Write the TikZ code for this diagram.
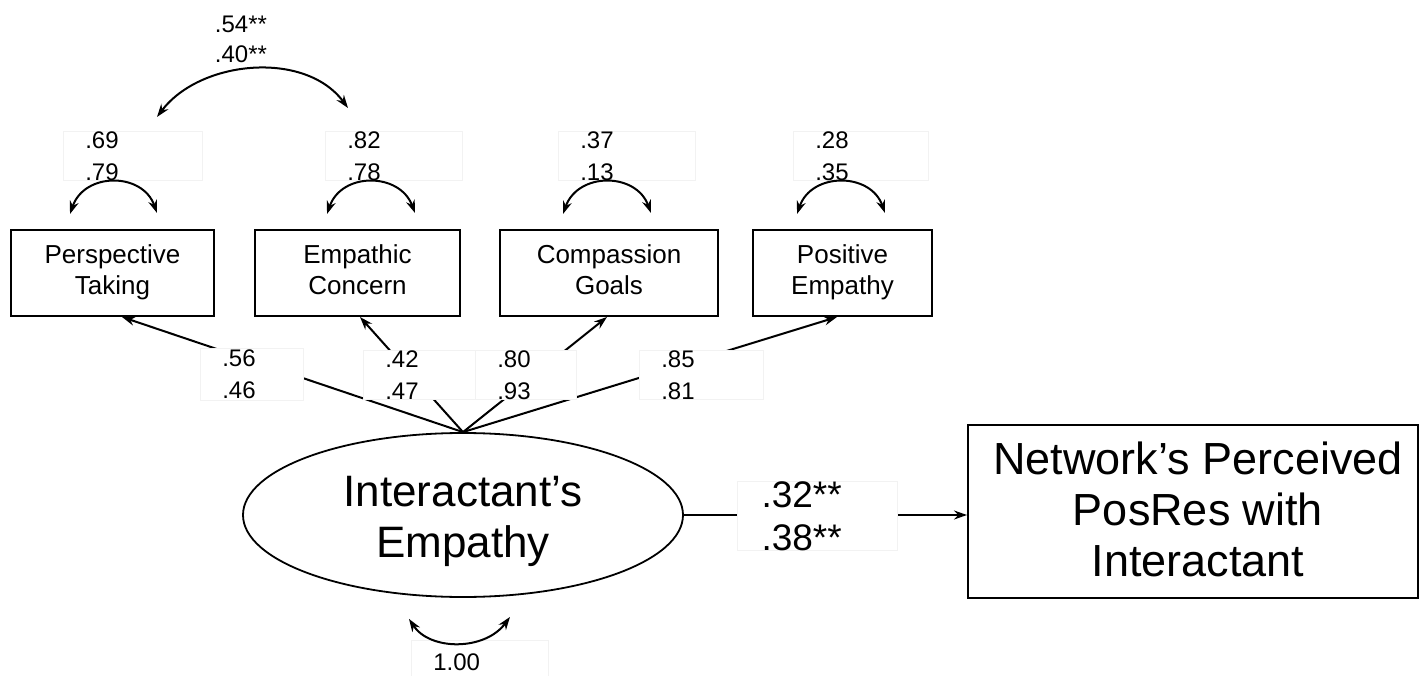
\documentclass[tikz,border=0pt]{standalone}
\usepackage{fontspec}
\setmainfont{Liberation Sans}
\usetikzlibrary{arrows.meta,calc,shapes.geometric}
\newcommand\fsz[2]{\fontsize{#1}{#2}\selectfont}
\begin{document}
\begin{tikzpicture}[x=1pt,y=-1pt,
  obs/.style={draw, line width=2pt, minimum height=86pt, inner sep=0pt, align=center, font=\fsz{26}{31}},
  arr/.style={line width=2pt, -{Stealth[length=13pt,width=9pt]}},
  dbl/.style={line width=2pt, {Stealth[length=13pt,width=9pt]}-{Stealth[length=13pt,width=9pt]}},
  lab/.style={fill=white, draw=black!5, line width=0.6pt, inner xsep=22pt, inner ysep=0pt, minimum height=46pt, align=left, font=\fsz{24}{32}, anchor=west},
  plain/.style={align=center, font=\fsz{24}{30}, inner sep=0pt}]
\useasboundingbox (0,0) rectangle (1421,676);

% indicator boxes
\node[obs, minimum width=203pt] (pt) at (112.5,273) {\strut Perspective\\\strut Taking};
\node[obs, minimum width=205pt] (ec) at (357.5,273) {\strut Empathic\\\strut Concern};
\node[obs, minimum width=218pt] (cg) at (609,273) {\strut Compassion\\\strut Goals};
\node[obs, minimum width=179pt] (pe) at (842.5,273) {\strut Positive\\\strut Empathy};

% latent
\node[ellipse, draw, line width=1.8pt, minimum width=440pt, minimum height=164pt, inner sep=0pt] (lat) at (463,515) {};
\node[align=center, inner sep=0pt, font=\fsz{44}{51}] (latt) at (463,522) {\strut Interactant's\\\strut Empathy};

% outcome
\node[draw, line width=2pt, minimum width=450pt, minimum height=173pt, inner sep=0pt] (net) at (1193,511.5) {};
\node[align=center, inner sep=0pt, font=\fsz{45}{51}] (nett) at (1198,515) {\strut Network's Perceived\\\strut PosRes with\\\strut Interactant};

% loadings
\draw[arr] (lat.north) -- ($(pt.south)+(9.5,0)$);
\draw[arr] (lat.north) -- ($(ec.south)+(2.5,0)$);
\draw[arr] (lat.north) -- ($(cg.south)+(-2,0)$);
\draw[arr] (lat.north) -- ($(pe.south)+(-5.5,0)$);

% structural path
\draw[arr] (lat.east) -- (lat.east -| net.west);

% loading labels
\node[lab, text width=59pt, minimum height=52pt] (l1) at (200,374) {.56\\.46};
\node[lab, text width=68pt] (l2) at (363,375) {.42\\.47};
\node[lab, text width=57pt] (l3) at (475,375) {.80\\.93};
\node[lab, text width=80pt] (l4) at (639,375) {.85\\.81};

% structural label
\node[fill=white, draw=black!5, line width=0.6pt, inner xsep=24pt, inner ysep=0pt, minimum height=46pt, text width=112pt, align=left, font=\fsz{37}{43}] (sl) at (817.5,516) {.32**\\.38**};

% variance labels
\node[lab, text width=95pt] (v1) at (63,156) {.69\\.79};
\node[lab, text width=93pt] (v2) at (325,156) {.82\\.78};
\node[lab, text width=93pt] (v3) at (558,156) {.37\\.13};
\node[lab, text width=91pt] (v4) at (793,156) {.28\\.35};
\node[plain] (cv) at (241,39) {.54**\\.40**};
\node[lab, text width=93pt, minimum height=44pt] (v5) at (411,662) {1.00};

% residual variances
\draw[dbl] ($(pt.north)+(-42.5,-15)$) .. controls ($(pt.north)+(-28,-57)$) and ($(pt.north)+(30,-57)$) .. ($(pt.north)+(44.5,-16)$);
\draw[dbl] ($(ec.north)+(-30.5,-15)$) .. controls ($(ec.north)+(-16,-57)$) and ($(ec.north)+(42,-57)$) .. ($(ec.north)+(57.5,-16)$);
\draw[dbl] ($(cg.north)+(-46,-15)$) .. controls ($(cg.north)+(-31,-57)$) and ($(cg.north)+(27,-57)$) .. ($(cg.north)+(42,-16)$);
\draw[dbl] ($(pe.north)+(-45.5,-15)$) .. controls ($(pe.north)+(-31,-57)$) and ($(pe.north)+(28,-57)$) .. ($(pe.north)+(42.5,-16)$);

% covariance PT-EC
\draw[dbl] ($(pt.north)+(44.5,-112)$) .. controls ($(pt.north)+(87.5,-169)$) and ($(ec.north)+(-52.5,-179)$) .. ($(ec.north)+(-9.5,-121)$);

% latent variance
\draw[dbl] ($(lat.south)+(-54,21)$) .. controls ($(lat.south)+(-33,53)$) and ($(lat.south)+(22,53)$) .. ($(lat.south)+(47,19)$);
\end{tikzpicture}
\end{document}
